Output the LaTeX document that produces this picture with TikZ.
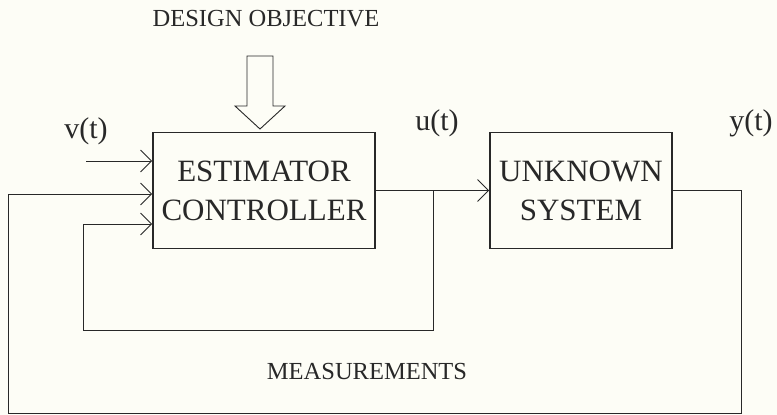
\documentclass[tikz,border=0pt]{standalone}
\usepackage{fontspec}
\setmainfont{Liberation Serif}
\usetikzlibrary{arrows.meta}
\definecolor{paper}{RGB}{253,253,246}
\definecolor{ink}{RGB}{40,40,40}
\tikzset{
  blockbox/.style={draw=ink,line width=1.6pt,minimum width=222pt,minimum height=116pt,
    align=center,inner sep=0pt,font=\fontsize{31}{39}\selectfont},
  sig/.style={draw=ink,line width=0.9pt},
  sigarrow/.style={sig,-{Straight Barb[length=11pt,width=22pt,line width=0.9pt]}},
  lbl/.style={text=ink,font=\fontsize{30}{34}\selectfont,inner sep=0pt},
  caption/.style={text=ink,font=\fontsize{24.5}{28}\selectfont,inner sep=0pt}
}
\begin{document}
\begin{tikzpicture}[x=1pt,y=-1pt]
\fill[paper] (0,0) rectangle (777,415);
\useasboundingbox (0,0) rectangle (777,415);

\node[blockbox,text=ink](est) at (264,190.5){ESTIMATOR\\CONTROLLER};
\node[blockbox,text=ink,minimum width=182pt](sys) at (581,190.5){UNKNOWN\\SYSTEM};

\node[caption](obj) at (266,19){DESIGN OBJECTIVE};
\node[caption](meas) at (367,372){MEASUREMENTS};
\node[lbl](v) at (86,131){v(t)};
\node[lbl](u) at (437,123){u(t)};
\node[lbl](y) at (751,123){y(t)};

% hollow objective arrow
\draw[ink,line width=0.9pt](247,56)--(273,56)--(273,106)--(285,106)--(260,129)--(235,106)--(247,106)--cycle;

% input and forward path
\coordinate (vin) at (86,161);
\draw[sigarrow](vin)--(vin-|est.west);
\draw[sigarrow](est.east)--(sys.west);

% inner loop from u(t)
\coordinate (uj) at (433,190.5);
\coordinate (innr) at (433,330);
\coordinate (innl) at (83,330);
\coordinate (inin) at (83,224);
\draw[sigarrow](uj)--(innr)--(innl)--(inin)--(inin-|est.west);

% outer loop from y(t)
\coordinate (yr) at (741,190.5);
\coordinate (outr) at (741,413);
\coordinate (outl) at (8,413);
\coordinate (outin) at (8,194);
\draw[sigarrow](sys.east)--(yr)--(outr)--(outl)--(outin)--(outin-|est.west);

\end{tikzpicture}
\end{document}
